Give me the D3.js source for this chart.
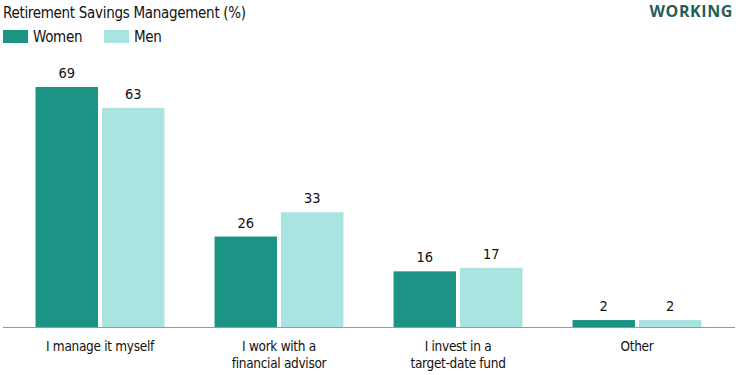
<!DOCTYPE html>
<html>
<head>
<meta charset="utf-8">
<script src="https://cdn.jsdelivr.net/npm/d3@7"></script>
<style>
  body { margin: 0; background: #fff; }
  svg text { font-family: "DejaVu Sans Condensed", "Liberation Sans Narrow", sans-serif; fill: #111; }
</style>
</head>
<body>
<div id="chart"></div>
<script>
// data
var categories = [["I manage it myself"], ["I work with a", "financial advisor"], ["I invest in a", "target-date fund"], ["Other"]];
var seriesNames = ["Women", "Men"];
var women = [69, 26, 16, 2];
var men = [63, 33, 17, 2];
var colors = ["#1b9385", "#a9e4e0"];

var width = 738, height = 375;
var baseY = 327, topY = 87;

var svg = d3.select("#chart").append("svg")
  .attr("width", width)
  .attr("height", height);

// title + brand
svg.append("text")
  .attr("x", 3).attr("y", 18)
  .style("font-size", "15px")
  .style("letter-spacing", "-0.3px")
  .text("Retirement Savings Management (%)");

svg.append("text")
  .attr("x", 733).attr("y", 16.5)
  .attr("text-anchor", "end")
  .style("font-family", "'Open Sans', sans-serif")
  .style("font-weight", "700")
  .style("font-size", "16px")
  .style("letter-spacing", "0.6px")
  .style("fill", "#1f5e59")
  .text("WORKING");

// legend
var legendX = [3, 104];
seriesNames.forEach(function(name, i) {
  svg.append("rect")
    .attr("x", legendX[i]).attr("y", 30)
    .attr("width", 25).attr("height", 13)
    .attr("fill", colors[i]);
  svg.append("text")
    .attr("x", legendX[i] + 30).attr("y", 42)
    .style("font-size", "15px")
    .style("letter-spacing", "-0.3px")
    .text(name);
});

var x0 = d3.scaleBand()
  .domain(d3.range(categories.length))
  .range([10.5, 726.5])
  .paddingInner(0.28)
  .paddingOuter(0.14);

var x1 = d3.scaleBand()
  .domain(seriesNames)
  .range([0, x0.bandwidth()])
  .paddingInner(0.06);

var y = d3.scaleLinear()
  .domain([0, 69])
  .range([baseY, topY]);

var rows = categories.map(function(c, i) {
  return [{ s: "Women", v: women[i], c: colors[0] }, { s: "Men", v: men[i], c: colors[1] }];
});

var groups = svg.selectAll("g.group")
  .data(rows)
  .enter().append("g")
  .attr("class", "group")
  .attr("transform", function(d, i) { return "translate(" + x0(i) + ",0)"; });

groups.selectAll("rect")
  .data(function(d) { return d; })
  .enter().append("rect")
  .attr("x", function(d) { return x1(d.s); })
  .attr("y", function(d) { return y(d.v); })
  .attr("width", x1.bandwidth())
  .attr("height", function(d) { return baseY - y(d.v); })
  .attr("fill", function(d) { return d.c; });

groups.selectAll("text.val")
  .data(function(d) { return d; })
  .enter().append("text")
  .attr("class", "val")
  .attr("x", function(d) { return x1(d.s) + x1.bandwidth() / 2; })
  .attr("y", function(d) { return y(d.v) - 9; })
  .attr("text-anchor", "middle")
  .style("font-size", "14.5px")
  .text(function(d) { return d.v; });

// baseline
svg.append("line")
  .attr("x1", 3).attr("x2", 735)
  .attr("y1", baseY + 0.5).attr("y2", baseY + 0.5)
  .attr("stroke", "#999").attr("stroke-width", 1.2);

// category labels
var xAxis = svg.append("g");
categories.forEach(function(lines, i) {
  var t = xAxis.append("text")
    .attr("x", x0(i) + x0.bandwidth() / 2)
    .attr("y", 351)
    .attr("text-anchor", "middle")
    .style("font-size", "13.5px")
    .style("letter-spacing", "-0.3px");
  lines.forEach(function(l, j) {
    t.append("tspan")
      .attr("x", x0(i) + x0.bandwidth() / 2)
      .attr("dy", j === 0 ? 0 : 16.5)
      .text(l);
  });
});
</script>
</body>
</html>
